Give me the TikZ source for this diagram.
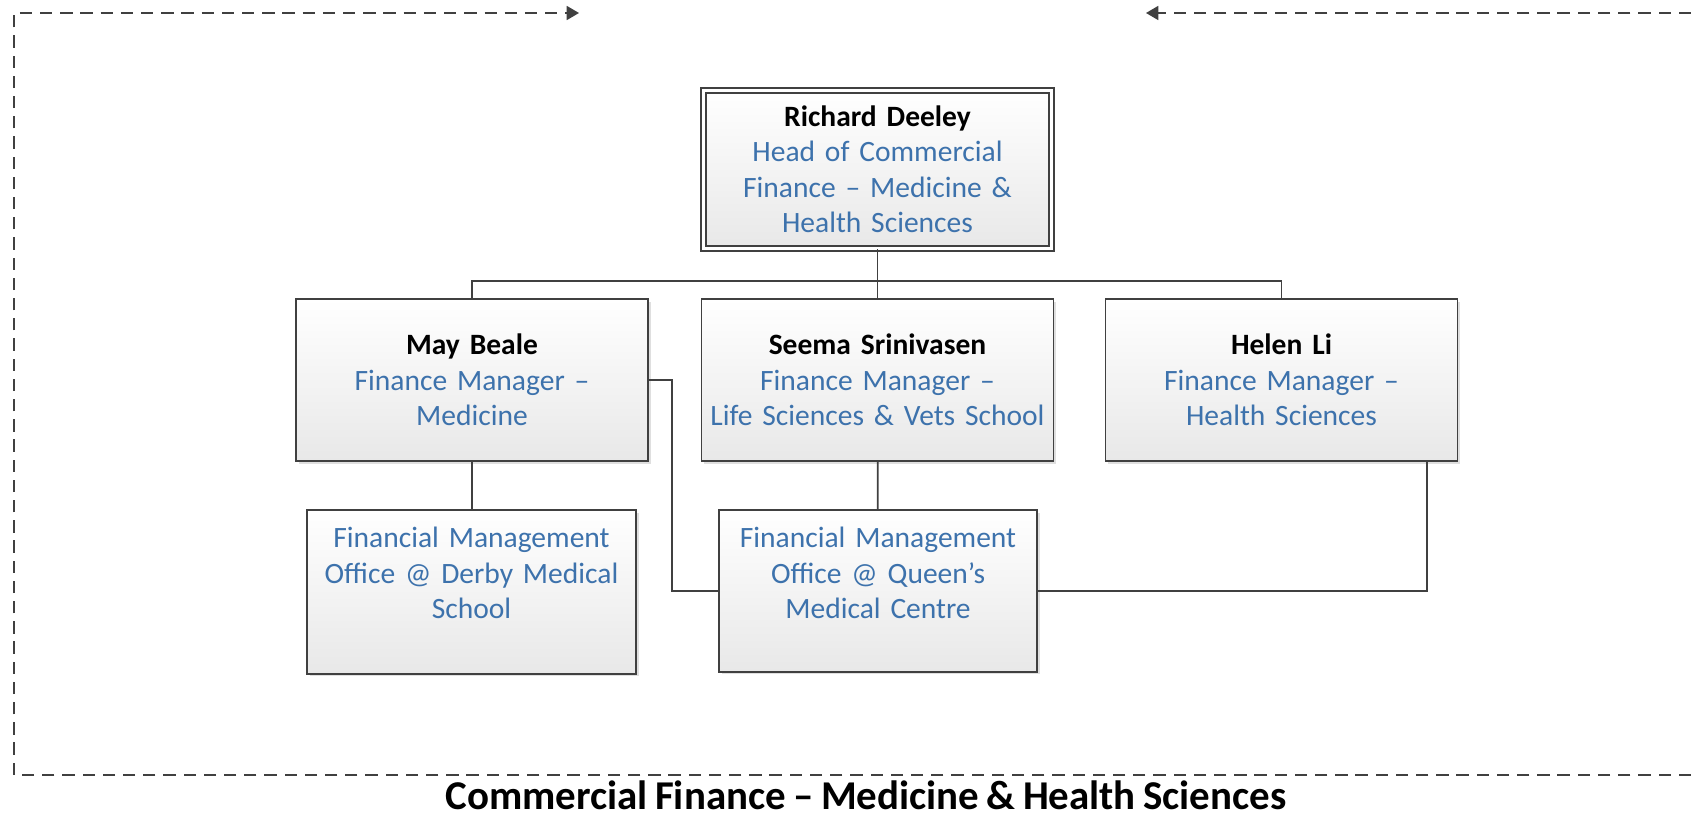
\documentclass[tikz,border=0pt]{standalone}
\usepackage{fontspec}
\setmainfont{Carlito}[WordSpace=0.8]
\usetikzlibrary{arrows.meta,shadows}
\definecolor{linegray}{HTML}{404040}
\definecolor{roleblue}{HTML}{3D72AC}
\definecolor{boxgray}{HTML}{E8E8E8}
\newcommand{\staffname}[1]{\textcolor{black}{\bfseries #1}}
\begin{document}
\begin{tikzpicture}[x=0.02cm,y=-0.02cm,
    unitbox/.style={draw=linegray, line width=1pt, top color=white, bottom color=boxgray,
      drop shadow={shadow xshift=1.5pt, shadow yshift=-1.5pt, fill=black!25, opacity=0.5},
      align=center, inner sep=0pt, text=roleblue, font=\fontsize{16.8}{20.2}\selectfont},
    headbox/.style={unitbox, line width=0.8pt, double=white, double distance=2pt},
    officebox/.style={unitbox, anchor=north, text height=0.76cm},
    link/.style={draw=linegray, line width=1pt},
    frame/.style={draw=linegray, line width=0.8pt, dash pattern=on 7pt off 4.5pt, -{Triangle[length=7pt,width=8pt]}}]
    \useasboundingbox (0,0) rectangle (1691,820);
    \coordinate (frametop) at (579,13);
    \coordinate (framecorner) at (14,775);
    \coordinate (framebottom) at (1691,775);
    \coordinate (frameright) at (1691,13);
    \coordinate (frameleft) at (1146,13);
    \draw[frame] (framebottom) -- (framecorner) |- (frametop);
    \draw[frame] (frameright) -- (frameleft);
    \node[headbox, text width=6.96cm, minimum height=3.16cm] (head) at (877.5,169.5)
        {\staffname{Richard Deeley}\\Head of Commercial\\Finance – Medicine \&\\Health Sciences};
    \node[unitbox, text width=7.04cm, minimum height=3.24cm] (may) at (472,380)
        {\staffname{May Beale}\\Finance Manager –\\Medicine};
    \node[unitbox, text width=7.04cm, minimum height=3.24cm] (seema) at (877.5,380)
        {\staffname{Seema Srinivasen}\\Finance Manager –\\Life Sciences \& Vets School};
    \node[unitbox, text width=7.04cm, minimum height=3.24cm] (helen) at (1281.5,380)
        {\staffname{Helen Li}\\Finance Manager –\\Health Sciences};
    \node[officebox, text width=6.58cm, text depth=2.52cm] (derby) at (471.5,509)
        {Financial Management\\Office @ Derby Medical\\School};
    \node[officebox, text width=6.36cm, text depth=2.48cm] (queens) at (878,509)
        {Financial Management\\Office @ Queen’s\\Medical Centre};
    \coordinate (bus) at (877.5,281);
    \draw[link] (head) -- (seema);
    \draw[link] (may.north) |- (bus) -| (helen.north);
    \draw[link] (may.south) -- (may.south |- derby.north);
    \draw[link] (seema) -- (queens);
    \draw[link] (may.east) -- ++(23,0) |- (queens.west);
    \draw[link] ([xshift=-0.62cm]helen.south east) |- (queens.east);
    \node[anchor=base, inner sep=0pt, font=\fontsize{23.3}{27}\selectfont\bfseries] (title) at (866,809)
        {Commercial Finance – Medicine \& Health Sciences};
\end{tikzpicture}
\end{document}
